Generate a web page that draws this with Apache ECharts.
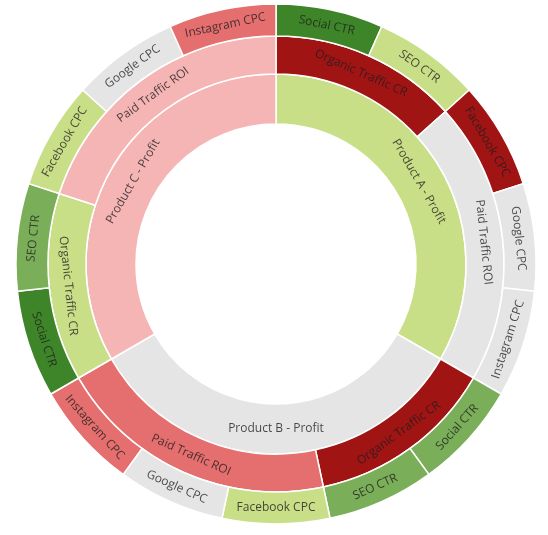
<!DOCTYPE html>
<html>
<head>
<meta charset="utf-8">
<title>Sunburst</title>
<script src="https://cdn.jsdelivr.net/npm/echarts@6/dist/echarts.min.js"></script>
<style>
html, body { margin: 0; padding: 0; background: #fff; }
#main { width: 548px; height: 535px; }
</style>
</head>
<body>
<div id="main"></div>
<script>
// data
var products = ['Product A - Profit', 'Product B - Profit', 'Product C - Profit']
var channels = ['Organic Traffic CR', 'Paid Traffic ROI']
var metrics = [['Social CTR', 'SEO CTR'], ['Facebook CPC', 'Google CPC', 'Instagram CPC']]
// one value per metric, per product (organic, paid)
var productA = [[1, 1], [1, 1, 1]]
var productB = [[1, 1], [1, 1, 1]]
var productC = [[1, 1], [1, 1, 1]]
var values = [productA, productB, productC]

// colours
var productColors = ['#c8df88', '#e5e5e5', '#f6b5b5']
var channelColors = [['#a01414', '#e5e5e5'], ['#a01414', '#e56e6e'], ['#c8df88', '#f6b5b5']]
var metricColors = [
    [['#3e8428', '#c8df88'], ['#a01414', '#e5e5e5', '#e5e5e5']],
    [['#7aae58', '#7aae58'], ['#c8df88', '#e5e5e5', '#e56e6e']],
    [['#3e8428', '#7aae58'], ['#c8df88', '#e5e5e5', '#e56e6e']]
]

var myChart = echarts.init(document.getElementById('main'))

var treeData = []
for (var p = 0; p < products.length; p++) {
    var pNode = { name: products[p], itemStyle: { color: productColors[p] }, children: [] }
    for (var c = 0; c < channels.length; c++) {
        var cNode = { name: channels[c], itemStyle: { color: channelColors[p][c] }, children: [] }
        for (var m = 0; m < metrics[c].length; m++) {
            cNode.children.push({
                name: metrics[c][m],
                value: values[p][c][m],
                itemStyle: { color: metricColors[p][c][m] }
            })
        }
        pNode.children.push(cNode)
    }
    treeData.push(pNode)
}

var option = {
    animation: false,
    series: [{
        type: 'sunburst',
        center: [276, 264],
        radius: [140, 260],
        startAngle: 90,
        sort: null,
        nodeClick: false,
        data: treeData,
        itemStyle: {
            borderColor: '#fff',
            borderWidth: 1.5
        },
        label: {
            rotate: 'tangential',
            color: 'rgba(30, 30, 30, 0.8)',
            fontFamily: 'Open Sans',
            fontSize: 12
        },
        levels: [
            {},
            { r0: 140, r: 190 },
            { r0: 190, r: 228 },
            { r0: 228, r: 260 }
        ]
    }]
}

myChart.setOption(option)
</script>
</body>
</html>
